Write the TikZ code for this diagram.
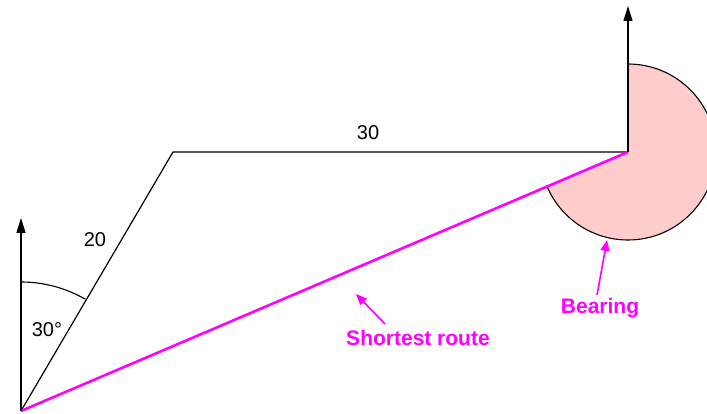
\documentclass[tikz,border=0pt]{standalone}
\usepackage{fontspec}
\setmainfont{Liberation Sans}
\usetikzlibrary{arrows.meta,calc}
\definecolor{mag}{HTML}{FF00FF}
\definecolor{sectorpink}{HTML}{FFCCCC}
\begin{document}
\begin{tikzpicture}[x=1pt,y=1pt,
  thinline/.style={line width=1.2pt,black},
  northarrow/.style={line width=1.4pt,black,-{Triangle[length=15pt,width=9pt]}},
  magline/.style={line width=2.6pt,mag},
  magarrow/.style={line width=1.6pt,mag,-{Triangle[length=11pt,width=9pt]}},
  lbl/.style={font=\fontsize{20}{23}\selectfont,inner sep=0pt},
  maglbl/.style={font=\fontsize{21}{24}\selectfont\bfseries,text=mag,inner sep=0pt}]
\useasboundingbox (0,0) rectangle (707,414);
\coordinate (O) at (21,3);
\coordinate (A) at (173,262);
\coordinate (B) at (628,262);
\coordinate (N1) at (21,196);
\coordinate (N2) at (628,408);
% sector
\fill[sectorpink] (B) -- ++(90:88) arc[start angle=90,end angle=-156.9,radius=88] -- cycle;
\draw[line width=1.1pt,black] ($(B)+(90:88)$) arc[start angle=90,end angle=-156.9,radius=88];
% angle arc
\draw[line width=1.1pt] ($(O)+(90:129)$) arc[start angle=90,end angle=60,radius=129];
% lines
\draw[thinline] (O) -- (A) -- (B);
\draw[magline] (O) -- (B);
\draw[northarrow] (O) -- (N1);
\draw[northarrow] (B) -- (N2);
% labels
\node[lbl] (l20) at (95,174) {20};
\node[lbl] (l30) at (368,281) {30};
\node[lbl] (l30d) at (47,84) {30°};
\node[maglbl] (short) at (418,76) {Shortest route};
\node[maglbl] (bear) at (600,106) {Bearing};
\coordinate (st) at (385,90);
\coordinate (sh) at (356,120);
\coordinate (bt) at (597,119);
\coordinate (bh) at (607,174);
\draw[magarrow] (st) -- (sh);
\draw[magarrow] (bt) -- (bh);
\end{tikzpicture}
\end{document}
